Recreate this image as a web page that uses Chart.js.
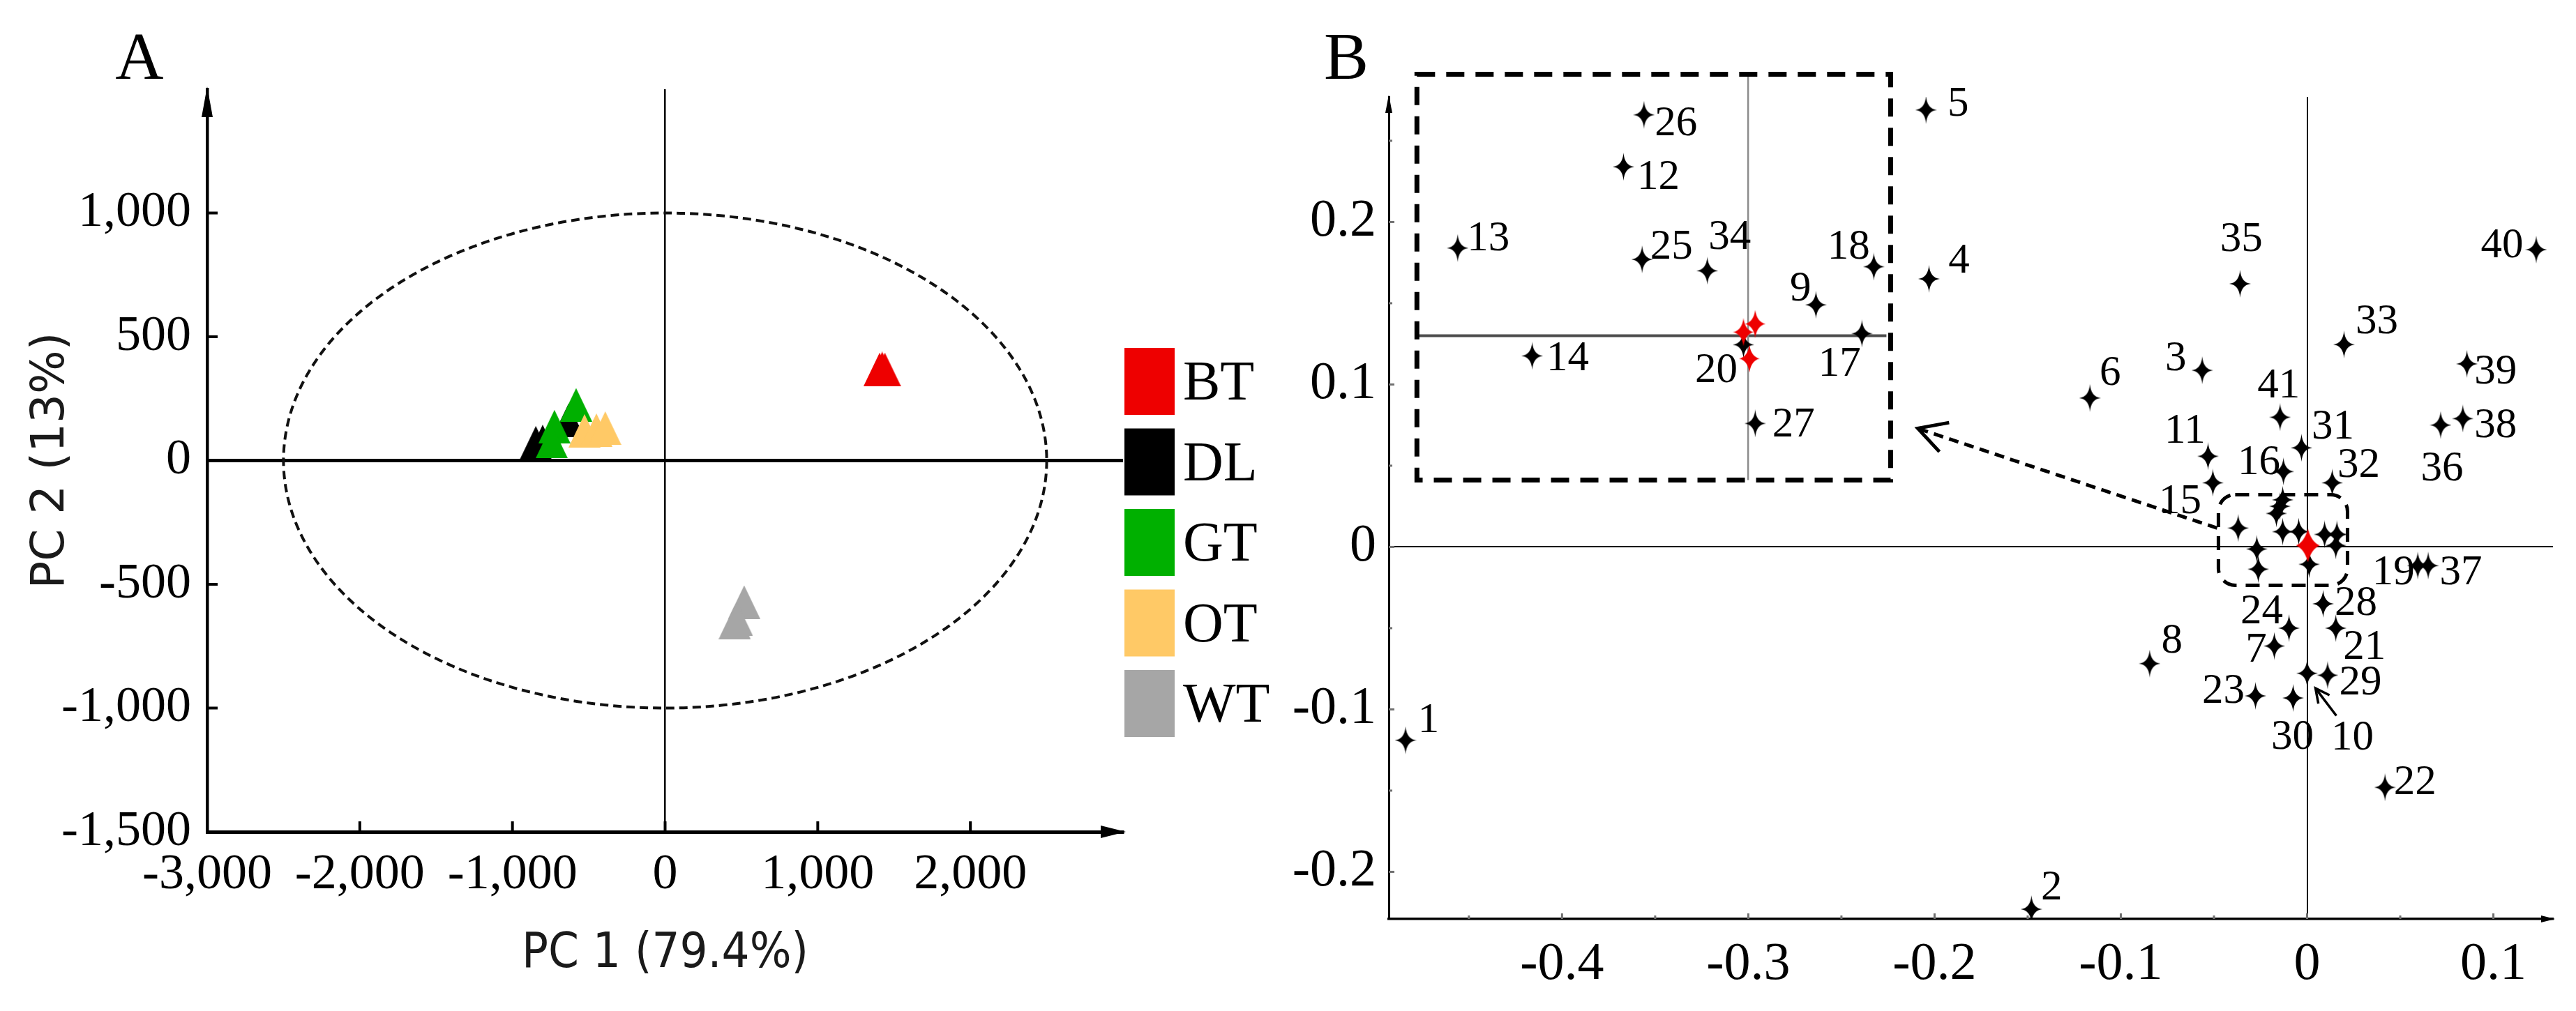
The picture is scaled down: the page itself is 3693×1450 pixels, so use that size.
<!DOCTYPE html>
<html>
<head>
<meta charset="utf-8">
<script src="https://cdn.jsdelivr.net/npm/chart.js@4.4.1/dist/chart.umd.min.js"></script>
<style>
  html, body { margin: 0; padding: 0; background: #fff; }
  #wrap { position: relative; width: 3693px; height: 1450px; }
  #chartA { position: absolute; left: 0; top: 0; }
  #chartB { position: absolute; left: 1850px; top: 0; }
</style>
</head>
<body>
<div id="wrap">
  <canvas id="chartA" width="1850" height="1450"></canvas>
  <canvas id="chartB" width="1843" height="1450"></canvas>
</div>
<script>
// ---------- panel A : PCA scores ----------
var groupNames = ['BT', 'DL', 'GT', 'OT', 'WT'];
var groupColors = ['#ee0000', '#000000', '#00b000', '#ffc966', '#a6a6a6'];
var btPC1 = [1405, 1440, 1422], btPC2 = [368, 368, 372];
var dlPC1 = [-847, -802, -633], dlPC2 = [72, 77, 162];
var gtPC1 = [-583, -725, -743], gtPC2 = [225, 137, 77];
var otPC1 = [-528, -450, -392], otPC2 = [120, 123, 131];
var wtPC1 = [518, 456, 470], wtPC2 = [-572, -654, -640];
var aXTicks = [-3000, -2000, -1000, 0, 1000, 2000];
var aYTicks = [-1500, -1000, -500, 0, 500, 1000];
var ellipseRadius = [2500, 1000];

// ---------- panel B : loadings ----------
var compIds = [1, 2, 3, 4, 5, 6, 7, 8, 10, 11, 15, 16, 19, 21, 22, 23, 24, 28, 29, 30, 31, 32, 33, 35, 36, 37, 38, 39, 40, 41];
var compPC1 = [-0.484, -0.148, -0.0563, -0.203, -0.2046, -0.1166, -0.0176, -0.0845, 0.0, -0.0532, -0.0506, -0.0127, 0.0594, 0.0154, 0.0418,
  -0.0277, -0.0097, 0.0086, 0.011, -0.0075, -0.003, 0.0135, 0.0198, -0.036, 0.0717, 0.065, 0.0836, 0.0858, 0.123, -0.0145];
var compPC2 = [-0.119, -0.223, 0.1087, 0.165, 0.269, 0.0917, -0.061, -0.0718, -0.0778, 0.0558, 0.0395, 0.0464, -0.0115, -0.05, -0.148,
  -0.0917, -0.05, -0.035, -0.079, -0.093, 0.061, 0.0395, 0.1246, 0.162, 0.075, -0.0115, 0.079, 0.1127, 0.183, 0.0798];
// unlabeled loadings packed around the origin
var clusterPC1 = [-0.0131, -0.0146, -0.0165, -0.037, -0.0131, -0.0045, 0.0094, 0.016, 0.0154, -0.027, -0.0262, 0.0011];
var clusterPC2 = [0.029, 0.025, 0.0206, 0.0116, 0.0094, 0.0094, 0.0077, 0.0077, 0.0009, -0.0013, -0.0137, -0.0107];
// magnified view (plotted where the inset shows them)
var insetIds = [9, 12, 13, 14, 17, 18, 20, 25, 26, 27, 34];
var insetPC1 = [-0.2637, -0.367, -0.456, -0.416, -0.239, -0.2326, -0.3026, -0.357, -0.356, -0.2963, -0.322];
var insetPC2 = [0.149, 0.234, 0.184, 0.1176, 0.1313, 0.1725, 0.1245, 0.177, 0.266, 0.076, 0.170];
var refPC1 = [0.0004], refPC2 = [0.0009];
var insetRefPC1 = [-0.3026, -0.2963, -0.2994], insetRefPC2 = [0.1322, 0.1373, 0.1159];
var bXTicks = [-0.4, -0.3, -0.2, -0.1, 0, 0.1];
var bYTicks = [-0.2, -0.1, 0, 0.1, 0.2];
var bXMinor = [-0.45, -0.35, -0.25, -0.15, -0.05, 0.05];
var bYMinor = [-0.15, -0.05, 0.05, 0.15, 0.25];

// annotation geometry (data units)
var insetBox = [-0.4779, -0.2236, 0.0412, 0.291];
var insetCross = [-0.3001, 0.130];
var zoomBox = [-0.0476, 0.0217, -0.0236, 0.0322];
var zoomArrow = [[-0.0483, 0.0116], [-0.2090, 0.0730]];
var pointer10 = [[0.0157, -0.1039], [0.0045, -0.087]];

// label placement around each star (px)
var labelOffset = {
  1: [33, -28], 2: [29, -30], 3: [-38, -16], 4: [43, -25], 5: [46, -8], 6: [29, -35], 7: [-26, 6], 8: [32, -32],
  10: [65, 93], 11: [-33, -35], 15: [-47, 28], 16: [-35, -12], 19: [-35, 11], 21: [41, 28], 22: [43, -6],
  23: [-46, -6], 24: [-39, -23], 28: [47, 0], 29: [47, 11], 30: [-1, 57], 31: [45, -29], 32: [38, -24],
  33: [47, -32], 35: [2, -63], 36: [2, 63], 37: [47, 11], 38: [47, 11], 39: [41, 12], 40: [-49, -5], 41: [-2, -44],
  9: [-22, -22], 12: [50, 16], 13: [44, -13], 14: [51, 5], 17: [-32, 44], 18: [-36, -28], 20: [-39, 38],
  25: [42, -17], 26: [46, 13], 27: [55, 3], 34: [32, -47]
};

var SERIF = "'Liberation Serif', 'Times New Roman', serif";

function pts(xs, ys) {
  return xs.map(function (x, i) { return { x: x, y: ys[i] }; });
}

function trianglePoint(color) {
  var c = document.createElement('canvas');
  c.width = 46; c.height = 48;
  var g = c.getContext('2d');
  g.fillStyle = color;
  g.beginPath(); g.moveTo(23, 0); g.lineTo(46, 48); g.lineTo(0, 48); g.closePath(); g.fill();
  return c;
}

// four-pointed sparkle with concave sides
function starPoint(color, w, h, waist) {
  var c = document.createElement('canvas');
  c.width = w; c.height = h;
  var g = c.getContext('2d'), cx = w / 2, cy = h / 2;
  g.fillStyle = color;
  g.beginPath();
  g.moveTo(cx, 0);
  g.quadraticCurveTo(cx + waist, cy - waist, w, cy);
  g.quadraticCurveTo(cx + waist, cy + waist, cx, h);
  g.quadraticCurveTo(cx - waist, cy + waist, 0, cy);
  g.quadraticCurveTo(cx - waist, cy - waist, cx, 0);
  g.fill();
  return c;
}

function arrowHead(ctx, tipX, tipY, fromX, fromY, len, half, filled) {
  var a = Math.atan2(tipY - fromY, tipX - fromX);
  var bx = tipX - Math.cos(a) * len, by = tipY - Math.sin(a) * len;
  var px = -Math.sin(a) * half, py = Math.cos(a) * half;
  ctx.beginPath();
  ctx.moveTo(bx + px, by + py);
  ctx.lineTo(tipX, tipY);
  ctx.lineTo(bx - px, by - py);
  if (filled) { ctx.closePath(); ctx.fill(); } else { ctx.stroke(); }
}

// arrows at the ends of both axes
var axisArrows = {
  id: 'axisArrows',
  afterDraw: function (chart, args, o) {
    var a = chart.chartArea, ctx = chart.ctx;
    ctx.save();
    ctx.fillStyle = '#000';
    arrowHead(ctx, a.left, a.top - o.over, a.left, a.bottom, o.yLen, o.yHalf, true);
    arrowHead(ctx, a.right + o.over, a.bottom, a.left, a.bottom, o.xLen, o.xHalf, true);
    ctx.restore();
  }
};

// small tick marks pointing into the plot
var innerTicks = {
  id: 'innerTicks',
  afterDraw: function (chart, args, o) {
    var a = chart.chartArea, ctx = chart.ctx, sx = chart.scales.x, sy = chart.scales.y;
    ctx.save();
    ctx.strokeStyle = o.color;
    ctx.lineWidth = o.width;
    function xt(v, len) { var p = sx.getPixelForValue(v); ctx.beginPath(); ctx.moveTo(p, a.bottom); ctx.lineTo(p, a.bottom - len); ctx.stroke(); }
    function yt(v, len) { var p = sy.getPixelForValue(v); ctx.beginPath(); ctx.moveTo(a.left, p); ctx.lineTo(a.left + len, p); ctx.stroke(); }
    o.x.forEach(function (v) { xt(v, o.len); });
    o.y.forEach(function (v) { yt(v, o.len); });
    (o.xMinor || []).forEach(function (v) { xt(v, o.minorLen); });
    (o.yMinor || []).forEach(function (v) { yt(v, o.minorLen); });
    ctx.restore();
  }
};

var panelLetter = {
  id: 'panelLetter',
  afterDraw: function (chart, args, o) {
    var ctx = chart.ctx;
    ctx.save();
    ctx.fillStyle = '#000';
    ctx.font = '96px ' + SERIF;
    ctx.textAlign = 'center';
    ctx.textBaseline = 'middle';
    ctx.fillText(o.text, o.x, o.y);
    ctx.restore();
  }
};

// confidence ellipse of panel A
var ellipsePlugin = {
  id: 'ellipse',
  beforeDatasetsDraw: function (chart) {
    var ctx = chart.ctx, sx = chart.scales.x, sy = chart.scales.y;
    var cx = sx.getPixelForValue(0), cy = sy.getPixelForValue(0);
    var rx = sx.getPixelForValue(ellipseRadius[0]) - cx, ry = cy - sy.getPixelForValue(ellipseRadius[1]);
    ctx.save();
    ctx.strokeStyle = '#111';
    ctx.lineWidth = 4;
    ctx.setLineDash([12, 7]);
    ctx.beginPath();
    ctx.ellipse(cx, cy, rx, ry, 0, 0, Math.PI * 2);
    ctx.stroke();
    ctx.restore();
  }
};

// colour key of panel A, to the right of the plot
var squareLegend = {
  id: 'squareLegend',
  afterDraw: function (chart) {
    var ctx = chart.ctx, left = 1612, top = 499, w = 72, h = 96, step = 115.5;
    ctx.save();
    ctx.font = '80px ' + SERIF;
    ctx.textBaseline = 'alphabetic';
    chart.data.datasets.forEach(function (ds, i) {
      var y = top + i * step;
      ctx.fillStyle = ds.backgroundColor;
      ctx.fillRect(left, y, w, h);
      ctx.fillStyle = '#000';
      ctx.fillText(ds.label, left + w + 12, y + h / 2 + 26);
    });
    ctx.restore();
  }
};

// compound numbers next to the stars of panel B
var starLabels = {
  id: 'starLabels',
  afterDatasetsDraw: function (chart) {
    var ctx = chart.ctx;
    ctx.save();
    ctx.fillStyle = '#000';
    ctx.font = '61px ' + SERIF;
    ctx.textAlign = 'center';
    ctx.textBaseline = 'middle';
    chart.data.datasets.forEach(function (ds, di) {
      if (!ds.ids) return;
      chart.getDatasetMeta(di).data.forEach(function (el, i) {
        var id = ds.ids[i], off = labelOffset[id] || [30, 0];
        ctx.fillText(String(id), el.x + off[0], el.y + off[1]);
      });
    });
    ctx.restore();
  }
};

// inset frame, zoom box and arrows of panel B
var overlaysB = {
  id: 'overlaysB',
  beforeDatasetsDraw: function (chart) {
    var ctx = chart.ctx, sx = chart.scales.x, sy = chart.scales.y;
    function X(v) { return sx.getPixelForValue(v); }
    function Y(v) { return sy.getPixelForValue(v); }
    var bx0 = X(insetBox[0]), bx1 = X(insetBox[1]), by0 = Y(insetBox[3]), by1 = Y(insetBox[2]);
    ctx.save();
    ctx.strokeStyle = '#4d4d4d';
    ctx.lineWidth = 4;
    ctx.beginPath(); ctx.moveTo(bx0, Y(insetCross[1])); ctx.lineTo(bx1 - 6, Y(insetCross[1])); ctx.stroke();
    ctx.strokeStyle = '#8c8c8c';
    ctx.lineWidth = 2.5;
    ctx.beginPath(); ctx.moveTo(X(insetCross[0]), by0); ctx.lineTo(X(insetCross[0]), by1); ctx.stroke();
    ctx.strokeStyle = '#000';
    ctx.lineWidth = 7;
    ctx.setLineDash([26, 16]);
    ctx.strokeRect(bx0, by0, bx1 - bx0, by1 - by0);

    var zx0 = X(zoomBox[0]), zx1 = X(zoomBox[1]), zy0 = Y(zoomBox[3]), zy1 = Y(zoomBox[2]), r = 24;
    ctx.lineWidth = 5;
    ctx.setLineDash([20, 13]);
    ctx.beginPath();
    ctx.moveTo(zx0 + r, zy0);
    ctx.arcTo(zx1, zy0, zx1, zy1, r);
    ctx.arcTo(zx1, zy1, zx0, zy1, r);
    ctx.arcTo(zx0, zy1, zx0, zy0, r);
    ctx.arcTo(zx0, zy0, zx1, zy0, r);
    ctx.closePath();
    ctx.stroke();
    ctx.restore();
  },
  afterDatasetsDraw: function (chart) {
    var ctx = chart.ctx, sx = chart.scales.x, sy = chart.scales.y;
    function X(v) { return sx.getPixelForValue(v); }
    function Y(v) { return sy.getPixelForValue(v); }
    var x0 = X(zoomArrow[0][0]), y0 = Y(zoomArrow[0][1]), x1 = X(zoomArrow[1][0]), y1 = Y(zoomArrow[1][1]);
    ctx.save();
    ctx.strokeStyle = '#000';
    ctx.lineWidth = 5;
    ctx.setLineDash([14, 9]);
    ctx.beginPath(); ctx.moveTo(x0, y0); ctx.lineTo(x1 + 4, y1 + 1.5); ctx.stroke();
    ctx.setLineDash([]);
    ctx.lineJoin = 'miter';
    arrowHead(ctx, x1, y1, x0, y0, 40, 22, false);

    var p0x = X(pointer10[0][0]), p0y = Y(pointer10[0][1]), p1x = X(pointer10[1][0]), p1y = Y(pointer10[1][1]);
    ctx.lineWidth = 3.5;
    ctx.beginPath(); ctx.moveTo(p0x, p0y); ctx.lineTo(p1x, p1y); ctx.stroke();
    arrowHead(ctx, p1x, p1y, p0x, p0y, 20, 10, false);
    ctx.restore();
  }
};

// ================= panel A =================
var triStyles = groupColors.map(trianglePoint);
var scoreSets = [[btPC1, btPC2], [dlPC1, dlPC2], [gtPC1, gtPC2], [otPC1, otPC2], [wtPC1, wtPC2]];
var drawOrder = [0, 3, 2, 1, 0];

new Chart('chartA', {
  type: 'scatter',
  data: {
    datasets: groupNames.map(function (name, i) {
      return {
        label: name,
        data: pts(scoreSets[i][0], scoreSets[i][1]),
        backgroundColor: groupColors[i],
        borderColor: groupColors[i],
        pointStyle: triStyles[i],
        pointRadius: 20,
        order: drawOrder[i]
      };
    })
  },
  options: {
    responsive: false,
    animation: false,
    events: [],
    layout: { padding: { top: 128, right: 240, left: 0, bottom: 0 } },
    plugins: {
      legend: { display: false },
      tooltip: { enabled: false },
      axisArrows: { over: 4, yLen: 44, yHalf: 8, xLen: 36, xHalf: 9 },
      innerTicks: { x: aXTicks, y: aYTicks, len: 15, width: 4, color: '#000' },
      panelLetter: { text: 'A', x: 200, y: 88 }
    },
    scales: {
      x: {
        type: 'linear', min: -3000, max: 3000,
        afterBuildTicks: function (s) { s.ticks = aXTicks.map(function (v) { return { value: v }; }); },
        afterFit: function (s) { s.height = 257; },
        ticks: {
          autoSkip: false, maxRotation: 0, padding: 19, color: '#000',
          font: { family: SERIF, size: 72 },
          callback: function (v) { return v.toLocaleString('en-US'); }
        },
        grid: {
          drawTicks: false,
          color: function (c) { return c.tick && c.tick.value === 0 ? '#000' : 'rgba(0,0,0,0)'; },
          lineWidth: 2.5
        },
        border: { color: '#000', width: 5 },
        title: {
          display: true, text: 'PC 1 (79.4%)', color: '#1a1a1a',
          font: { family: "'Liberation Sans Narrow', 'DejaVu Sans Condensed', 'Liberation Sans', sans-serif", size: 70 },
          padding: { top: 0, bottom: 39 }
        }
      },
      y: {
        type: 'linear', min: -1500, max: 1500,
        afterBuildTicks: function (s) { s.ticks = aYTicks.map(function (v) { return { value: v }; }); },
        afterFit: function (s) { s.width = 297; },
        ticks: {
          autoSkip: false, padding: 23, color: '#000',
          font: { family: SERIF, size: 72 },
          callback: function (v) { return v.toLocaleString('en-US'); }
        },
        grid: {
          drawTicks: false,
          color: function (c) { return c.tick && c.tick.value === 0 ? '#000' : 'rgba(0,0,0,0)'; },
          lineWidth: 5
        },
        border: { color: '#000', width: 4.5 },
        title: {
          display: true, text: 'PC 2 (13%)', color: '#1a1a1a',
          font: { family: "'DejaVu Sans', sans-serif", size: 66 },
          padding: { top: 34, bottom: 0 }
        }
      }
    }
  },
  plugins: [ellipsePlugin, axisArrows, innerTicks, squareLegend, panelLetter]
});

// ================= panel B =================
var blackStar = starPoint('#000', 31, 40, 1.5);
var redStar = starPoint('#ee0000', 30, 40, 2.5);
var bigRedStar = starPoint('#ee0000', 34, 48, 5);

new Chart('chartB', {
  type: 'scatter',
  data: {
    datasets: [
      { label: 'origin', data: pts(refPC1, refPC2), pointStyle: bigRedStar, pointRadius: 10, order: 0 },
      { label: 'reference (inset)', data: pts(insetRefPC1, insetRefPC2), pointStyle: redStar, pointRadius: 10, order: 0 },
      { label: 'compounds', ids: compIds, data: pts(compPC1, compPC2), pointStyle: blackStar, pointRadius: 10, order: 1 },
      { label: 'compounds (inset)', ids: insetIds, data: pts(insetPC1, insetPC2), pointStyle: blackStar, pointRadius: 10, order: 1 },
      { label: 'near origin', data: pts(clusterPC1, clusterPC2), pointStyle: blackStar, pointRadius: 10, order: 1 }
    ]
  },
  options: {
    responsive: false,
    animation: false,
    events: [],
    layout: { padding: { top: 139, right: 33, left: 0, bottom: 0 } },
    plugins: {
      legend: { display: false },
      tooltip: { enabled: false },
      axisArrows: { over: 3, yLen: 26, yHalf: 5, xLen: 20, xHalf: 5 },
      innerTicks: { x: bXTicks, y: bYTicks, xMinor: bXMinor, yMinor: bYMinor, len: 8, minorLen: 5, width: 3, color: '#707070' },
      panelLetter: { text: 'B', x: 80, y: 88 }
    },
    scales: {
      x: {
        type: 'linear', min: -0.493, max: 0.132,
        afterBuildTicks: function (s) { s.ticks = bXTicks.map(function (v) { return { value: v }; }); },
        afterFit: function (s) { s.height = 132; },
        ticks: {
          autoSkip: false, maxRotation: 0, padding: 20, color: '#000',
          font: { family: SERIF, size: 76 },
          callback: function (v) { return String(Math.round(v * 10) / 10 || 0); }
        },
        grid: {
          drawTicks: false,
          color: function (c) { return c.tick && Math.abs(c.tick.value) < 1e-9 ? '#000' : 'rgba(0,0,0,0)'; },
          lineWidth: 2
        },
        border: { color: '#000', width: 3.5 }
      },
      y: {
        type: 'linear', min: -0.229, max: 0.277,
        afterBuildTicks: function (s) { s.ticks = bYTicks.map(function (v) { return { value: v }; }); },
        afterFit: function (s) { s.width = 141; },
        ticks: {
          autoSkip: false, padding: 18, color: '#000',
          font: { family: SERIF, size: 76 },
          callback: function (v) { return String(Math.round(v * 10) / 10 || 0); }
        },
        grid: {
          drawTicks: false,
          color: function (c) { return c.tick && Math.abs(c.tick.value) < 1e-9 ? '#000' : 'rgba(0,0,0,0)'; },
          lineWidth: 2
        },
        border: { color: '#000', width: 3 }
      }
    }
  },
  plugins: [overlaysB, starLabels, axisArrows, innerTicks, panelLetter]
});
</script>
</body>
</html>
